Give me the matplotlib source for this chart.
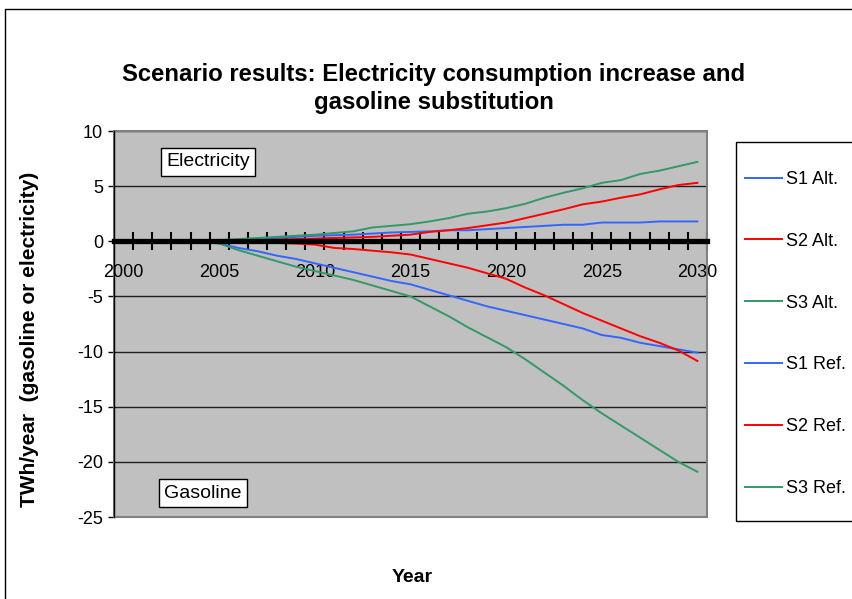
import matplotlib
matplotlib.use("Agg")
import matplotlib.pyplot as plt
from matplotlib.patches import Rectangle

plt.rcParams['font.family'] = ['Liberation Sans', 'DejaVu Sans']

years = list(range(2000, 2031))

# Electricity consumption increase (TWh/year)
s1_alt = [0.0, 0.0, 0.0, 0.0, 0.0, 0.05, 0.1, 0.2, 0.3, 0.4, 0.5, 0.55, 0.6, 0.7, 0.8,
          0.85, 0.9, 1.0, 1.0, 1.1, 1.2, 1.3, 1.4, 1.5, 1.5, 1.7, 1.7, 1.7, 1.8, 1.8, 1.8]
s2_alt = [0.0, 0.0, 0.0, 0.0, 0.0, 0.0, 0.05, 0.1, 0.15, 0.2, 0.25, 0.3, 0.35, 0.4, 0.5,
          0.6, 0.85, 1.0, 1.2, 1.45, 1.7, 2.1, 2.5, 2.9, 3.35, 3.6, 3.95, 4.25, 4.7, 5.1, 5.3]
s3_alt = [0.0, 0.1, 0.1, 0.1, 0.1, 0.1, 0.2, 0.3, 0.4, 0.5, 0.6, 0.75, 0.9, 1.25, 1.4,
          1.55, 1.8, 2.1, 2.5, 2.7, 3.0, 3.4, 3.95, 4.4, 4.8, 5.3, 5.55, 6.1, 6.4, 6.8, 7.2]

# Gasoline substitution (TWh/year)
s1_ref = [0.0, 0.0, 0.0, 0.0, 0.0, -0.2, -0.6, -0.9, -1.3, -1.6, -2.0, -2.4, -2.8, -3.2, -3.6,
          -3.9, -4.4, -4.9, -5.4, -5.9, -6.3, -6.7, -7.1, -7.5, -7.9, -8.5, -8.75, -9.2, -9.5, -9.8, -10.1]
s2_ref = [0.0, 0.0, 0.0, 0.0, 0.0, 0.0, -0.05, -0.1, -0.15, -0.2, -0.3, -0.6, -0.7, -0.85, -1.0,
          -1.2, -1.6, -2.0, -2.4, -2.9, -3.4, -4.2, -4.9, -5.7, -6.5, -7.2, -7.9, -8.6, -9.2, -9.9, -10.85]
s3_ref = [0.0, 0.0, 0.0, 0.0, 0.0, -0.2, -0.8, -1.3, -1.8, -2.3, -2.7, -3.1, -3.5, -4.0, -4.5,
          -5.0, -5.9, -6.8, -7.8, -8.7, -9.6, -10.7, -11.9, -13.1, -14.4, -15.6, -16.7, -17.8, -18.9, -20.0, -20.9]

series_labels = ['S1 Alt.', 'S2 Alt.', 'S3 Alt.', 'S1 Ref.', 'S2 Ref.', 'S3 Ref.']
series_values = [s1_alt, s2_alt, s3_alt, s1_ref, s2_ref, s3_ref]
series_colors = ['#3366FF', '#FF0000', '#339966', '#3366FF', '#FF0000', '#339966']

y_ticks = [10, 5, 0, -5, -10, -15, -20, -25]
x_label_years = [2000, 2005, 2010, 2015, 2020, 2025, 2030]

W, H = 853, 599
fig = plt.figure(figsize=(W / 100, H / 100), dpi=100)
fig.patch.set_facecolor('white')

def fx(px):
    return px / W

def fy(py):
    return 1 - py / H

# outer chart border (runs off the right and bottom edges)
fig.patches.append(Rectangle((fx(5), fy(700)), fx(1000), fy(9) - fy(700),
                             transform=fig.transFigure, fill=False,
                             edgecolor='black', linewidth=1.0, clip_on=False))

ax = fig.add_axes([fx(114), fy(517), fx(707) - fx(114), fy(131) - fy(517)])
ax.set_facecolor('#C0C0C0')

for vals, col, lab in zip(series_values, series_colors, series_labels):
    ax.plot(years, vals, color=col, linewidth=1.4, label=lab, zorder=3)

ax.set_xlim(1999.5, 2030.5)
ax.set_ylim(-25, 10)
ax.set_yticks(y_ticks)
ax.set_yticklabels([str(v) for v in y_ticks])
ax.yaxis.grid(True, color='#202020', linewidth=1.0)
ax.set_axisbelow(True)

# category axis crossing at zero
ax.spines['bottom'].set_position(('data', 0))
ax.spines['bottom'].set_linewidth(3.8)
ax.spines['bottom'].set_color('black')
ax.spines['bottom'].set_zorder(4)
ax.spines['left'].set_color('black')
ax.spines['left'].set_linewidth(1.0)
for s in ('top', 'right'):
    ax.spines[s].set_visible(False)
ax.add_patch(Rectangle((0, 0), 1, 1, transform=ax.transAxes, fill=False,
                       edgecolor='#808080', linewidth=1.5, clip_on=False, zorder=2))

ax.set_xticks([y - 0.5 for y in years[1:]] + [2030.5])
ax.set_xticklabels([])
ax.set_xticks(x_label_years, minor=True)
ax.set_xticklabels([str(y) for y in x_label_years], minor=True, fontsize=13)
ax.tick_params(axis='x', which='major', direction='inout', length=13, width=1.5, color='black')
ax.tick_params(axis='x', which='minor', length=0, pad=16)
ax.tick_params(axis='y', direction='out', length=4, width=1.0, labelsize=13, pad=4)

# annotation boxes
ax.text(fx(166), fy(162), 'Electricity', transform=fig.transFigure, fontsize=14,
        ha='left', va='center', zorder=5,
        bbox=dict(boxstyle='square,pad=0.28', facecolor='white', edgecolor='black', linewidth=1.0))
ax.text(fx(164), fy(493), 'Gasoline', transform=fig.transFigure, fontsize=14,
        ha='left', va='center', zorder=5,
        bbox=dict(boxstyle='square,pad=0.28', facecolor='white', edgecolor='black', linewidth=1.0))

# titles and axis labels
fig.text(fx(434), fy(74), 'Scenario results: Electricity consumption increase and',
         ha='center', va='center', fontsize=17.2, fontweight='bold')
fig.text(fx(434), fy(103), 'gasoline substitution',
         ha='center', va='center', fontsize=17.2, fontweight='bold')
fig.text(fx(30), fy(339), 'TWh/year  (gasoline or electricity)', rotation=90,
         ha='center', va='center', fontsize=15, fontweight='bold')
fig.text(fx(412), fy(578), 'Year', ha='center', va='center', fontsize=14, fontweight='bold')

# legend frame (runs off the right edge)
fig.patches.append(Rectangle((fx(736), fy(521)), fx(200), fy(142) - fy(521),
                             transform=fig.transFigure, fill=False,
                             edgecolor='black', linewidth=1.0, clip_on=False))
handles, labels = ax.get_legend_handles_labels()
fig.legend(handles, labels, loc='upper left', bbox_to_anchor=(fx(745), fy(171)),
           frameon=False, fontsize=13, handlelength=2.05, handletextpad=0.22,
           labelspacing=2.48, borderaxespad=0, borderpad=0)

fig.savefig('out.png', dpi=100, facecolor='white')
